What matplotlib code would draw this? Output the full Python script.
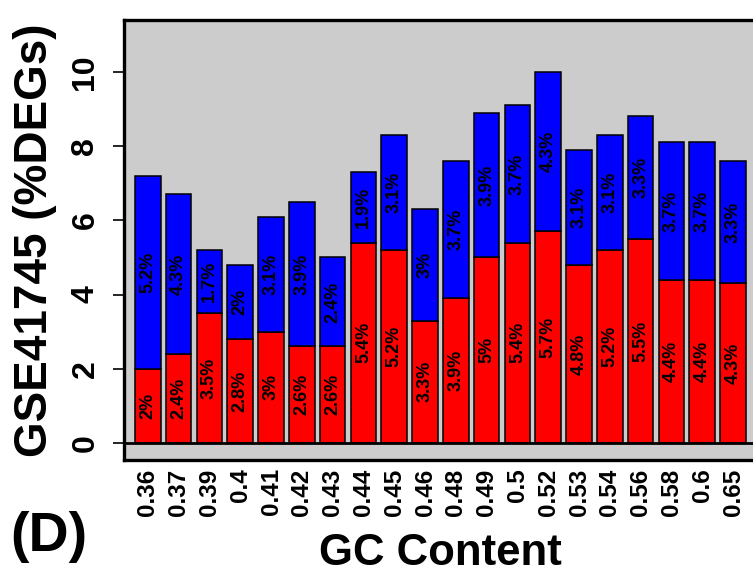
import matplotlib
matplotlib.use("Agg")
import matplotlib.pyplot as plt
import numpy as np

plt.rcParams['font.family'] = ['Liberation Sans', 'DejaVu Sans']

# GC-content bins and percentage of DEGs per bin
gc_content = ["0.36", "0.37", "0.39", "0.4", "0.41", "0.42", "0.43", "0.44", "0.45", "0.46",
              "0.48", "0.49", "0.5", "0.52", "0.53", "0.54", "0.56", "0.58", "0.6", "0.65"]
down_pct = [2, 2.4, 3.5, 2.8, 3, 2.6, 2.6, 5.4, 5.2, 3.3,
            3.9, 5, 5.4, 5.7, 4.8, 5.2, 5.5, 4.4, 4.4, 4.3]
up_pct = [5.2, 4.3, 1.7, 2, 3.1, 3.9, 2.4, 1.9, 3.1, 3,
          3.7, 3.9, 3.7, 4.3, 3.1, 3.1, 3.3, 3.7, 3.7, 3.3]
y_ticks = [0, 2, 4, 6, 8, 10]

W, H = 753, 573
fig = plt.figure(figsize=(W / 100, H / 100), dpi=100)
fig.patch.set_facecolor("white")

# panel in pixel units (right edge runs past the canvas)
left_px, right_px, top_px, bottom_px = 124, 780, 20, 460
ax = fig.add_axes([left_px / W, (H - bottom_px) / H,
                   (right_px - left_px) / W, (bottom_px - top_px) / H])
ax.set_facecolor("#CCCCCC")

down = np.array(down_pct)
up = np.array(up_pct)
x = 0.7 + 1.2 * np.arange(len(gc_content))

ax.bar(x, down, width=1.0, color="#FF0000", edgecolor="black", linewidth=1.1, zorder=2)
ax.bar(x, up, width=1.0, bottom=down, color="#0000FF", edgecolor="black", linewidth=1.1, zorder=2)

for xi, d, u in zip(x, down, up):
    ax.text(xi, d / 2, f"{d:g}%", rotation=90, ha="center", va="center",
            fontsize=13, fontweight="bold", color="black", zorder=3)
    ax.text(xi, d + u / 2, f"{u:g}%", rotation=90, ha="center", va="center",
            fontsize=13, fontweight="bold", color="black", zorder=3)

ax.axhline(0, color="black", linewidth=2.0, zorder=4)

ax.set_xlim(-0.23, 25.33)
ax.set_ylim(-0.46, 11.40)

ax.set_xticks(x)
ax.set_xticklabels(gc_content, rotation=90, fontsize=17.5, fontweight="bold")
ax.tick_params(axis="x", length=0, pad=6)

ax.set_yticks(y_ticks)
ax.set_yticklabels([str(t) for t in y_ticks], rotation=90, va="center",
                   fontsize=23, fontweight="bold")
ax.tick_params(axis="y", length=8, width=1.2, pad=9, direction="out")

for sp in ax.spines.values():
    sp.set_linewidth(2.4)
    sp.set_color("black")

fig.text(35 / W, (H - 240) / H, "GSE41745 (%DEGs)", rotation=90, ha="center", va="center",
         fontsize=33, fontweight="bold")
fig.text(440 / W, (H - 565) / H, "GC Content", ha="center", va="baseline",
         fontsize=31.5, fontweight="bold")
fig.text(10 / W, (H - 551) / H, "(D)", ha="left", va="baseline",
         fontsize=40, fontweight="bold")

fig.savefig("out.png", dpi=100, facecolor="white")
